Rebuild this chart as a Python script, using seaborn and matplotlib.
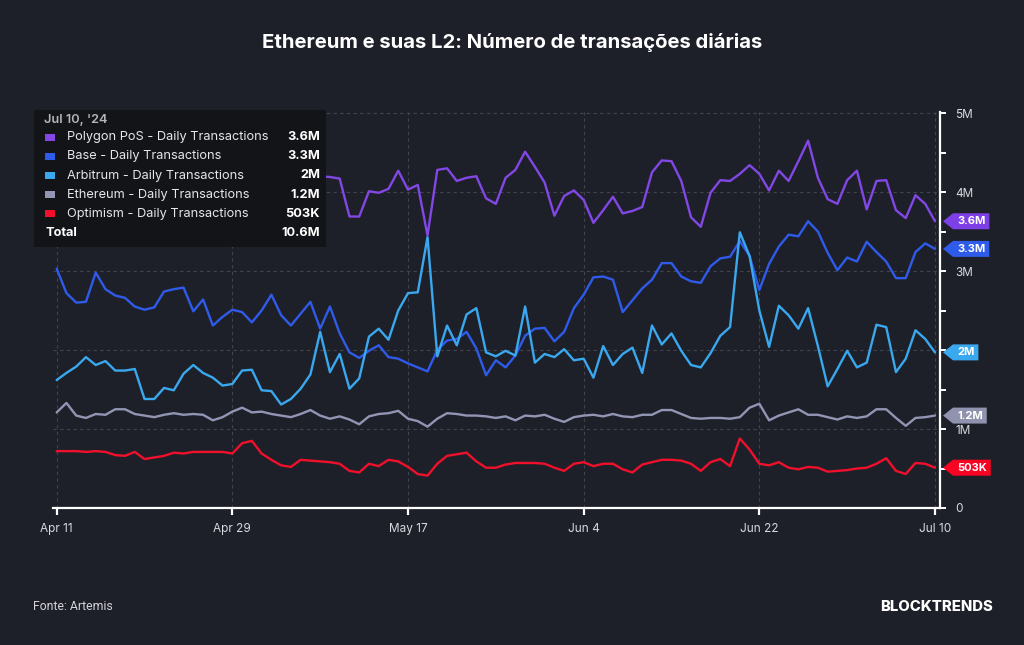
import matplotlib
matplotlib.use("Agg")
import matplotlib.pyplot as plt
from matplotlib.patches import Rectangle, Polygon
from matplotlib.transforms import IdentityTransform
import numpy as np
import pandas as pd
import seaborn as sns

# ---------------- data ----------------
start_date = "2024-04-11"
n_days = 91

polygon = [4.05, 3.92, 4.18, 3.85, 4.02, 4.25, 3.95, 3.78, 4.08, 4.21, 3.90, 4.12, 4.35, 4.00,
           3.82, 4.15, 4.10, 3.88, 3.72, 4.03, 4.28, 4.12, 3.86, 3.98, 4.22, 3.90, 4.08, 4.20,
           4.19, 4.17, 3.69, 3.69, 4.01, 3.99, 4.04, 4.27, 4.03, 4.09, 3.45, 4.28, 4.30, 4.14,
           4.18, 4.20, 3.92, 3.85, 4.18, 4.28, 4.51,
           4.32, 4.12, 3.70, 3.95, 4.02, 3.90, 3.61, 3.77, 3.94, 3.73, 3.76, 3.81, 4.25, 4.40,
           4.39, 4.14, 3.68, 3.56, 3.99, 4.15, 4.14, 4.23, 4.34, 4.23, 4.02,
           4.27, 4.14, 4.39, 4.65, 4.18, 3.91, 3.85, 4.15, 4.27, 3.78, 4.14, 4.15, 3.77, 3.67,
           3.96, 3.85, 3.63]

base = [3.03, 2.72, 2.60, 2.61, 2.98, 2.77, 2.69, 2.66, 2.55, 2.51, 2.54, 2.74, 2.77, 2.79,
        2.49, 2.64, 2.31, 2.42, 2.51, 2.48, 2.35, 2.50, 2.70, 2.44, 2.31, 2.46, 2.61, 2.27,
        2.55, 2.21, 1.97, 1.90, 1.99, 2.06, 1.91, 1.89, 1.83, 1.78, 1.73, 2.00, 2.12, 2.14,
        2.23, 2.02, 1.68,
        1.87, 1.78, 1.93, 2.18, 2.27, 2.28, 2.11, 2.23, 2.53, 2.70, 2.92, 2.93, 2.89, 2.48,
        2.63, 2.78, 2.89, 3.10, 3.10, 2.93, 2.87, 2.85, 3.06, 3.16, 3.18, 3.38, 3.19, 2.76,
        3.09, 3.31, 3.46, 3.44, 3.63, 3.50, 3.23, 3.01, 3.17, 3.12, 3.37, 3.24, 3.12, 2.91,
        2.91, 3.24, 3.35, 3.28]

arbitrum = [1.62, 1.71, 1.79, 1.91, 1.81, 1.86, 1.74, 1.74, 1.76, 1.38, 1.38, 1.52, 1.49, 1.70,
            1.81, 1.71, 1.65, 1.55, 1.57, 1.74, 1.75, 1.49, 1.48, 1.31, 1.38, 1.51, 1.69, 2.23,
            1.72, 1.95, 1.51, 1.64, 2.17, 2.27, 2.13, 2.50, 2.72, 2.73, 3.43, 1.92, 2.31, 2.06,
            2.45, 2.53, 1.97,
            1.92, 1.99, 1.93, 2.55, 1.84, 1.95, 1.91, 2.01, 1.87, 1.89, 1.65, 2.05, 1.81, 1.95,
            2.03, 1.71, 2.31, 2.07, 2.21, 1.99, 1.81, 1.78, 1.96, 2.18, 2.29, 3.49, 3.19, 2.50,
            2.04, 2.56, 2.44, 2.27, 2.53, 2.05, 1.54, 1.76, 1.99, 1.78, 1.84, 2.32, 2.29, 1.72,
            1.89, 2.25, 2.14, 1.97]

ethereum = [1.21, 1.33, 1.17, 1.14, 1.19, 1.18, 1.25, 1.25, 1.19, 1.17, 1.15, 1.18, 1.20, 1.18,
            1.19, 1.18, 1.11, 1.15, 1.22, 1.27, 1.21, 1.22, 1.19,
            1.17, 1.15, 1.19, 1.24, 1.17, 1.13, 1.16, 1.12, 1.06, 1.16, 1.19, 1.20, 1.23, 1.13,
            1.10, 1.03, 1.13, 1.20, 1.19, 1.17, 1.17, 1.16, 1.14, 1.16, 1.11, 1.17,
            1.16, 1.18, 1.13, 1.09, 1.15, 1.17, 1.18, 1.16, 1.19, 1.16, 1.15, 1.18, 1.18, 1.24,
            1.24, 1.19, 1.14, 1.13, 1.14, 1.14, 1.13, 1.15, 1.27, 1.32, 1.11, 1.17, 1.21, 1.25,
            1.18, 1.18, 1.15, 1.12, 1.16, 1.14, 1.16, 1.25, 1.25, 1.14, 1.04, 1.14, 1.15, 1.17]

optimism = [0.72, 0.72, 0.72, 0.71, 0.72, 0.71, 0.67, 0.66, 0.71, 0.62, 0.64, 0.66, 0.70, 0.69,
            0.71, 0.71, 0.71, 0.71, 0.69, 0.82, 0.85, 0.69, 0.61,
            0.54, 0.52, 0.61, 0.60, 0.59, 0.58, 0.56, 0.47, 0.45, 0.56, 0.53, 0.61, 0.59, 0.52,
            0.43, 0.41, 0.56, 0.66, 0.68, 0.70, 0.59, 0.51, 0.51, 0.55, 0.57, 0.57,
            0.57, 0.56, 0.51, 0.47, 0.56, 0.58, 0.53, 0.56, 0.56, 0.49, 0.45, 0.55, 0.58, 0.61,
            0.61, 0.60, 0.56, 0.47, 0.58, 0.62, 0.53, 0.88, 0.74, 0.56, 0.54,
            0.58, 0.51, 0.49, 0.52, 0.51, 0.46, 0.47, 0.48, 0.50, 0.51, 0.56, 0.63, 0.47, 0.43,
            0.57, 0.56, 0.51]

series_names = ["Polygon PoS", "Base", "Arbitrum", "Ethereum", "Optimism"]
series_values = [polygon, base, arbitrum, ethereum, optimism]
legend_values = ["3.6M", "3.3M", "2M", "1.2M", "503K"]
tag_labels = ["3.6M", "3.3M", "2M", "1.2M", "503K"]
total_label = "10.6M"
legend_date = "Jul 10, '24"
colors = ["#8247e5", "#2f5bea", "#3aa8ee", "#9295b3", "#f0102c"]
tag_colors = ["#7d3fe6", "#2f5bea", "#3aa8ee", "#8f93ad", "#f80423"]
draw_order = ["Ethereum", "Optimism", "Base", "Arbitrum", "Polygon PoS"]

tick_dates = ["2024-04-11", "2024-04-29", "2024-05-17", "2024-06-04", "2024-06-22", "2024-07-10"]
tick_labels = ["Apr 11", "Apr 29", "May 17", "Jun 4", "Jun 22", "Jul 10"]
y_ticks = [0, 1, 2, 3, 4, 5]
y_tick_labels = ["0", "1M", "2M", "3M", "4M", "5M"]
y_minor = [0.5, 1.5, 2.5, 3.5, 4.5]

title = "Ethereum e suas L2: Número de transações diárias"
source = "Fonte: Artemis"
brand = "BLOCKTRENDS"

# ---------------- style ----------------
BG = "#1e2029"
sns.set_theme(style="dark")
plt.rcParams["font.family"] = ["Inter", "DejaVu Sans"]
plt.rcParams["axes.facecolor"] = BG
plt.rcParams["figure.facecolor"] = BG

dates = pd.date_range(start_date, periods=n_days, freq="D")
frames = []
for name, vals in zip(series_names, series_values):
    frames.append(pd.DataFrame({"date": dates, "value": vals, "series": name}))
df = pd.concat(frames, ignore_index=True)
palette = dict(zip(series_names, colors))

W, H = 1024, 645
fig = plt.figure(figsize=(W / 100, H / 100), dpi=100)
ax_left, ax_right, ax_bottom, ax_top = 52.7, 940.0, 508.0, 112.0
ax = fig.add_axes([ax_left / W, 1 - ax_bottom / H, (ax_right - ax_left) / W, (ax_bottom - ax_top) / H])
ax.set_facecolor(BG)

sns.lineplot(data=df, x="date", y="value", hue="series", hue_order=draw_order,
             palette=palette, linewidth=1.7, legend=False, ax=ax, zorder=3)

ax.set_xlim(dates[0] - pd.Timedelta(hours=9.8), dates[-1] + pd.Timedelta(hours=12.3))
ax.set_ylim(0, 5.013)

ax.set_xticks(pd.to_datetime(tick_dates))
ax.set_xticklabels(tick_labels)
ax.yaxis.tick_right()
ax.set_yticks(y_ticks)
ax.set_yticklabels(y_tick_labels)
ax.set_yticks(y_minor, minor=True)
ax.set_xlabel("")
ax.set_ylabel("")

for s in ["left", "top"]:
    ax.spines[s].set_visible(False)
for s in ["bottom", "right"]:
    ax.spines[s].set_visible(True)
    ax.spines[s].set_color("white")
    ax.spines[s].set_linewidth(1.6)

ax.tick_params(axis="x", which="major", direction="out", length=5, width=1.6, color="white",
               labelcolor="#d9d9de", labelsize=8.5, pad=6, bottom=True)
ax.tick_params(axis="y", which="both", direction="out", length=4, width=1.4, color="white",
               labelcolor="#d9d9de", labelsize=8.5, pad=7, right=True, left=False)
ax.grid(True, which="major", color="#41444f", linestyle=(0, (3, 3)), linewidth=0.8)
ax.set_axisbelow(True)

# ---------------- texts ----------------
fig.text(0.5, 1 - 43 / H, title, ha="center", va="center", color="white",
         fontsize=14.6, fontweight="bold")
fig.text(33 / W, 1 - 607 / H, source, ha="left", va="center", color="#d4d4d8",
         fontsize=8.8, family=["Roboto", "DejaVu Sans"])
fig.text(993 / W, 1 - 607 / H, brand, ha="right", va="center", color="white",
         fontsize=10.7, fontweight="heavy")

# ---------------- legend box (tooltip) ----------------
lb_x0, lb_x1, lb_y0, lb_y1 = 34, 326, 110, 247
fig.add_artist(Rectangle((lb_x0 / W, 1 - lb_y1 / H), (lb_x1 - lb_x0) / W, (lb_y1 - lb_y0) / H,
                         transform=fig.transFigure, facecolor="#131418", edgecolor="none", zorder=5))
fig.text(44 / W, 1 - 120 / H, legend_date, ha="left", va="center", color="#b4b4ba",
         fontsize=9.2, fontweight="semibold", zorder=6)
row_y0, row_dy = 137.3, 19.1
for i, (name, val, col) in enumerate(zip(series_names, legend_values, colors)):
    yc = row_y0 + i * row_dy
    fig.add_artist(Rectangle((45 / W, 1 - (yc + 3.5) / H), 10 / W, 7 / H, transform=fig.transFigure,
                             facecolor=col, edgecolor="none", zorder=6))
    fig.text(67 / W, 1 - yc / H, f"{name} - Daily Transactions", ha="left", va="center",
             color="#e6e6ea", fontsize=9.2, zorder=6)
    fig.text(320 / W, 1 - yc / H, val, ha="right", va="center", color="white",
             fontsize=9.2, fontweight="bold", zorder=6)
yc = row_y0 + 5 * row_dy
fig.text(45 / W, 1 - yc / H, "Total", ha="left", va="center", color="white",
         fontsize=9.2, fontweight="bold", zorder=6)
fig.text(320 / W, 1 - yc / H, total_label, ha="right", va="center", color="white",
         fontsize=9.2, fontweight="bold", zorder=6)

# ---------------- value tags on right axis ----------------
fig.canvas.draw()
renderer = fig.canvas.get_renderer()
ytrans = ax.get_yaxis_transform()
tag_boxes = []
for name, vals, lab, col in zip(series_names, series_values, tag_labels, tag_colors):
    x0, y0 = ytrans.transform((1.0, vals[-1]))
    t = fig.text(x0 + 17, y0, lab, transform=IdentityTransform(), ha="left", va="center",
                 color="white", fontsize=8, fontweight="bold", zorder=8)
    bb = t.get_window_extent(renderer)
    right = bb.x1 + 4
    hh = 8
    tip = x0 + 3
    pts = [(tip, y0), (tip + 10, y0 + hh), (right, y0 + hh), (right, y0 - hh), (tip + 10, y0 - hh)]
    fig.add_artist(Polygon(pts, closed=True, transform=IdentityTransform(), facecolor=col,
                           edgecolor="none", zorder=7))
    tag_boxes.append((tip, y0 - hh, right, y0 + hh))

# tick labels that sit underneath a value tag are hidden by it (as in the reference)
for lbl in ax.get_yticklabels():
    lb = lbl.get_window_extent(renderer)
    for (bx0, by0, bx1, by1) in tag_boxes:
        if lb.x0 < bx1 and lb.x1 > bx0 and lb.y0 < by1 - 2 and lb.y1 > by0 + 2:
            lbl.set_visible(False)

fig.savefig("out.png", dpi=100, facecolor=BG)
